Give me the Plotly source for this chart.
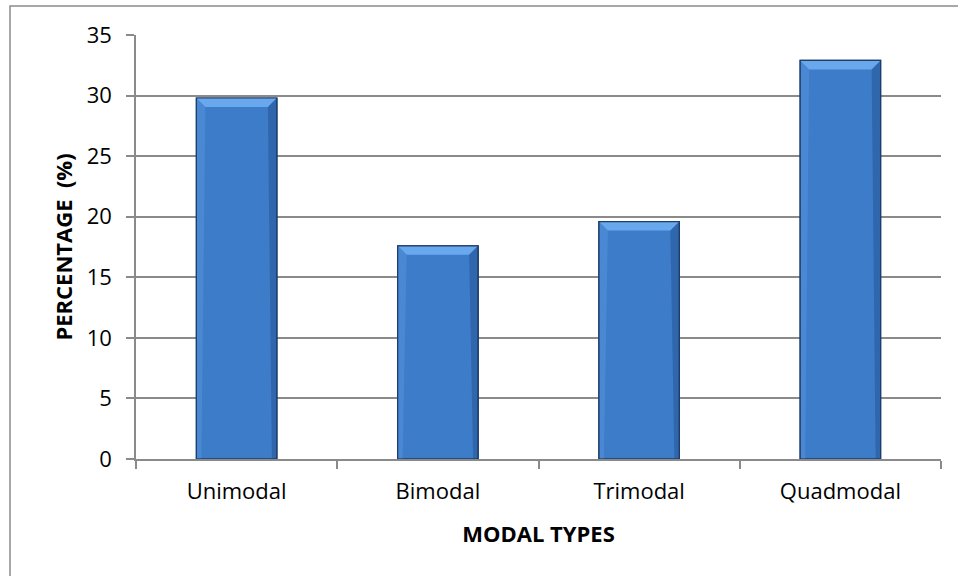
import plotly.graph_objects as go

# Share of each modal type
categories = ["Unimodal", "Bimodal", "Trimodal", "Quadmodal"]
percentages = [29.8, 17.6, 19.6, 32.9]
y_ticks = [0, 5, 10, 15, 20, 25, 30, 35]

FONT = "Open Sans"
GRID = "#8a8a8a"
BAR = "#3d7cc9"
BAR_EDGE = "#1d3d6b"

W, H = 958, 576
M_L, M_R, M_T, M_B = 136, 17, 35, 117
plot_w = W - M_L - M_R
plot_h = H - M_T - M_B
y_max = 35
bar_width = 0.4

# pixel -> data-unit conversion for the bevel decoration
px_y = y_max / plot_h
px_x = len(categories) / plot_w

fig = go.Figure()
fig.add_trace(go.Bar(
    x=categories,
    y=percentages,
    width=bar_width,
    marker=dict(color=BAR, line=dict(color=BAR_EDGE, width=1.2)),
    hoverinfo="x+y",
))

shapes = []
for i, v in enumerate(percentages):
    x0, x1 = i - bar_width / 2, i + bar_width / 2
    dx, dy = 9 * px_x, 9 * px_y
    # light top bevel
    shapes.append(dict(
        type="path", xref="x", yref="y",
        path=f"M {x0},{v} L {x1},{v} L {x1 - dx},{v - dy} L {x0 + dx},{v - dy} Z",
        fillcolor="#6aa8ee", line=dict(width=0), layer="above"))
    # lighter left edge strip
    sx = 5 * px_x
    shapes.append(dict(
        type="path", xref="x", yref="y",
        path=f"M {x0},{v} L {x0 + dx},{v - dy} L {x0 + sx},{0} L {x0},{0} Z",
        fillcolor="rgba(90,150,225,0.45)", line=dict(width=0), layer="above"))
    # darker right edge strip
    shapes.append(dict(
        type="path", xref="x", yref="y",
        path=f"M {x1},{v} L {x1 - dx},{v - dy} L {x1 - sx},{0} L {x1},{0} Z",
        fillcolor="rgba(30,70,130,0.4)", line=dict(width=0), layer="above"))
    # re-draw bar outline on top of the bevel
    shapes.append(dict(
        type="rect", xref="x", yref="y", x0=x0, x1=x1, y0=0, y1=v,
        line=dict(color=BAR_EDGE, width=1.2), layer="above"))

# outer chart border (runs off the right and bottom edges)
shapes.append(dict(
    type="rect", xref="paper", yref="paper",
    x0=(10 - M_L) / plot_w, x1=(W + 10 - M_L) / plot_w,
    y0=-(H + 10 - M_T - plot_h) / plot_h, y1=(H - 6 - M_B) / plot_h,
    line=dict(color="#8c8c8c", width=1.5), layer="below"))

fig.update_layout(
    width=W, height=H,
    margin=dict(l=M_L, r=M_R, t=M_T, b=M_B),
    paper_bgcolor="white", plot_bgcolor="white",
    font=dict(family=FONT, size=22, color="#000000"),
    showlegend=False,
    shapes=shapes,
    xaxis=dict(
        type="category",
        range=[-0.5, len(categories) - 0.5],
        tickson="boundaries",
        ticks="outside", ticklen=8, tickcolor=GRID, tickwidth=1.5,
        ticklabelstandoff=12,
        showline=True, linecolor=GRID, linewidth=1.5,
        showgrid=False, zeroline=False,
        tickfont=dict(family=FONT, size=22),
        title=dict(text="<b>MODAL TYPES</b>", font=dict(family=FONT, size=22), standoff=22),
    ),
    yaxis=dict(
        range=[0, y_max],
        tickmode="array", tickvals=y_ticks,
        ticks="outside", ticklen=8, tickcolor=GRID, tickwidth=1.5,
        ticklabelstandoff=10,
        showline=True, linecolor=GRID, linewidth=1.5,
        showgrid=True, gridcolor=GRID, gridwidth=1.5,
        zeroline=False,
        tickfont=dict(family=FONT, size=22),
        title=dict(text="<b>PERCENTAGE\u00a0 (%)</b>", font=dict(family=FONT, size=22), standoff=8),
    ),
)

fig.write_html("out.html")
